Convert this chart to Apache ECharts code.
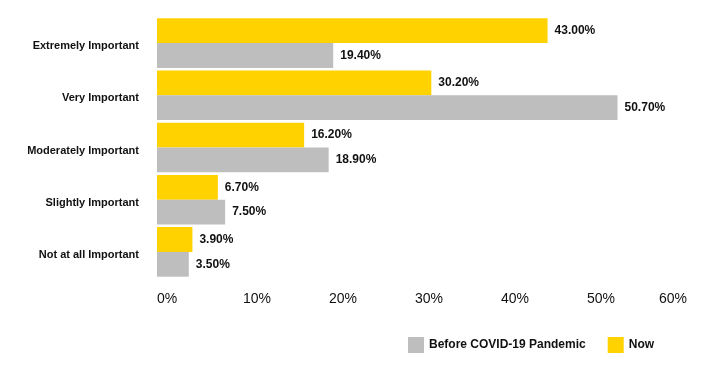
<!DOCTYPE html>
<html><head><meta charset="utf-8">
<script src="https://cdn.jsdelivr.net/npm/echarts@6/dist/echarts.min.js"></script>
<style>html,body{margin:0;padding:0;background:#fff}#c{width:718px;height:379px}</style>
</head><body><div id="c"></div>
<script>
const categories = ["Extremely Important", "Very Important", "Moderately Important", "Slightly Important", "Not at all Important"];
const nowValues = [43.0, 30.2, 16.2, 6.7, 3.9];
const beforeValues = [19.4, 50.7, 18.9, 7.5, 3.5];
const tickValues = [0, 10, 20, 30, 40, 50, 60];
const seriesNames = ["Before COVID-19 Pandemic", "Now"];

const FONT = '"Liberation Sans", Arial, sans-serif';
const chart = echarts.init(document.getElementById('c'), null, {renderer: 'canvas'});
const valLabel = {
  show: true, position: 'right', distance: 7,
  formatter: p => p.value.toFixed(2) + '%',
  fontFamily: FONT, fontWeight: 'bold', fontSize: 12, color: '#111'
};
chart.setOption({
  animation: false,
  backgroundColor: '#fff',
  legend: {
    data: seriesNames, left: 408, top: 337, padding: 0, itemWidth: 16, itemHeight: 16, itemGap: 22,
    icon: 'rect',
    textStyle: {fontFamily: FONT, fontWeight: 'bold', fontSize: 12, color: '#111'}
  },
  grid: [
    {left: 157, width: 545, top: 17, height: 261},
    {left: 157, width: 516, top: 17, height: 261}
  ],
  xAxis: [
    {gridIndex: 0, type: 'value', min: 0, max: 60, interval: 10,
     axisLabel: {show: false}, axisLine: {show: false}, axisTick: {show: false}, splitLine: {show: false}},
    {gridIndex: 1, type: 'value', min: tickValues[0], max: tickValues[tickValues.length - 1], interval: 10,
     axisLine: {show: false}, axisTick: {show: false}, splitLine: {show: false},
     axisLabel: {formatter: '{value}%', align: 'left', alignMaxLabel: 'center', margin: 14,
                 fontFamily: FONT, fontSize: 14, color: '#111'}}
  ],
  yAxis: [
    {gridIndex: 0, type: 'category', data: categories, inverse: true,
     axisLine: {show: false}, axisTick: {show: false},
     axisLabel: {margin: 18, formatter: v => '{a|' + v + '}',
       rich: {a: {padding: [6, 0, 0, 0], fontFamily: FONT, fontWeight: 'bold', fontSize: 11, color: '#111'}},
       fontFamily: FONT, fontWeight: 'bold', fontSize: 11, color: '#111'}},
    {gridIndex: 1, type: 'value', show: false}
  ],
  series: [
    {name: seriesNames[1], type: 'bar', xAxisIndex: 0, yAxisIndex: 0, data: nowValues,
     barCategoryGap: '5%', barGap: '0%', itemStyle: {color: '#FFD200'}, label: valLabel},
    {name: seriesNames[0], type: 'bar', xAxisIndex: 0, yAxisIndex: 0, data: beforeValues,
     barCategoryGap: '5%', barGap: '0%', itemStyle: {color: '#BEBEBE'}, label: valLabel}
  ]
});
</script></body></html>
